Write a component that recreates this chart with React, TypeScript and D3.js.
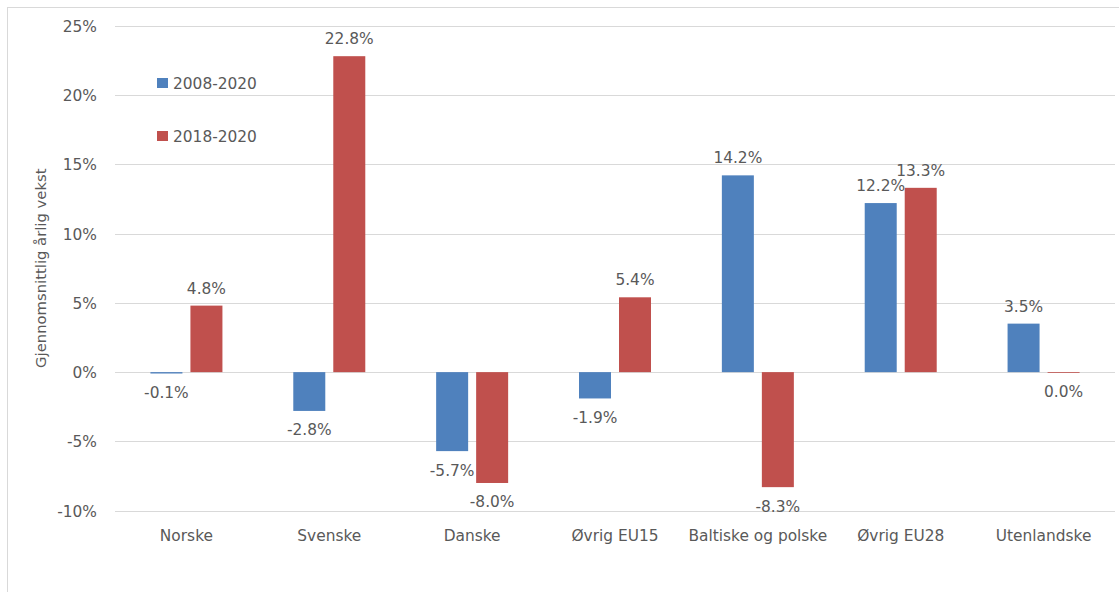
import React from "react";
import * as d3 from "d3";

// Average annual growth by group, in percent
const categories = [
  "Norske",
  "Svenske",
  "Danske",
  "Øvrig EU15",
  "Baltiske og polske",
  "Øvrig EU28",
  "Utenlandske",
];
const seriesNames = ["2008-2020", "2018-2020"];
const growth2008_2020 = [-0.1, -2.8, -5.7, -1.9, 14.2, 12.2, 3.5];
const growth2018_2020 = [4.8, 22.8, -8.0, 5.4, -8.3, 13.3, -0.04];
const yTicks = [-10, -5, 0, 5, 10, 15, 20, 25];
const yTitle = "Gjennomsnittlig årlig vekst";

const colors = ["#4F81BD", "#C0504D"];
const textColor = "#595959";
const gridColor = "#D9D9D9";
const fontFamily = "'DejaVu Sans', sans-serif";
const fs = 15.4;

const W = 1119;
const H = 592;

const locale = d3.formatLocale({
  decimal: ".",
  thousands: ",",
  grouping: [3],
  currency: ["", ""],
  minus: "-",
});
const fmtLabel = (v: number) => locale.format(".1f")(v) + "%";
const fmtTick = (v: number) => locale.format("d")(v) + "%";

export default function App() {
  const x = d3.scaleBand<string>().domain(categories).range([115, 1115]);
  const bw = x.bandwidth();
  const inner = d3
    .scaleBand<string>()
    .domain(seriesNames)
    .range([bw / 2 - 36, bw / 2 + 36])
    .paddingInner(0.2);
  const y = d3.scaleLinear().domain([-10, 25]).range([510.7, 25.7]);

  const series = [growth2008_2020, growth2018_2020];
  const crisp = (v: number) => Math.round(v) + 0.5;

  return (
    <svg
      width={W}
      height={H}
      style={{ position: "absolute", left: 0, top: 0, display: "block", background: "#fff" }}
      fontFamily={fontFamily}
    >
      <rect x={0} y={0} width={W} height={H} fill="#fff" />
      <rect x={7.5} y={7.5} width={W + 20} height={H + 20} fill="none" stroke={gridColor} strokeWidth={1} />

      {/* gridlines */}
      {yTicks.map((t) => (
        <line
          key={"g" + t}
          x1={115}
          x2={1115}
          y1={crisp(y(t))}
          y2={crisp(y(t))}
          stroke={gridColor}
          strokeWidth={1}
        />
      ))}

      {/* y tick labels */}
      {yTicks.map((t) => (
        <text
          key={"t" + t}
          x={97}
          y={y(t) + 6}
          textAnchor="end"
          fontSize={fs}
          fill={textColor}
        >
          {fmtTick(t)}
        </text>
      ))}

      {/* y axis title */}
      <text
        transform={`translate(46, ${(y(-10) + y(25)) / 2}) rotate(-90)`}
        textAnchor="middle"
        fontSize={14.8}
        fill={textColor}
      >
        {yTitle}
      </text>

      {/* bars */}
      {series.map((vals, si) =>
        vals.map((v, ci) => {
          const bx = (x(categories[ci]) ?? 0) + (inner(seriesNames[si]) ?? 0);
          const y0 = y(0);
          const yv = y(v);
          const top = Math.min(y0, yv);
          const h = Math.max(Math.abs(yv - y0), 0.8);
          return (
            <rect
              key={`b${si}-${ci}`}
              x={bx}
              y={top}
              width={inner.bandwidth()}
              height={h}
              fill={colors[si]}
            />
          );
        })
      )}

      {/* value labels */}
      {series.map((vals, si) =>
        vals.map((v, ci) => {
          const cx =
            (x(categories[ci]) ?? 0) + (inner(seriesNames[si]) ?? 0) + inner.bandwidth() / 2;
          const ly = v >= 0 ? y(v) - 12 : Math.max(y(v), y(0) + 0.8) + 24.5;
          return (
            <text
              key={`l${si}-${ci}`}
              x={cx}
              y={ly}
              textAnchor="middle"
              fontSize={fs}
              fill={textColor}
            >
              {fmtLabel(v)}
            </text>
          );
        })
      )}

      {/* category labels */}
      {categories.map((c) => (
        <text
          key={"c" + c}
          x={(x(c) ?? 0) + bw / 2}
          y={540.5}
          textAnchor="middle"
          fontSize={fs}
          fill={textColor}
        >
          {c}
        </text>
      ))}

      {/* legend */}
      {seriesNames.map((s, i) => (
        <g key={"lg" + s} transform={`translate(157, ${78 + i * 53})`}>
          <rect x={0} y={0} width={11} height={10} fill={colors[i]} />
          <text x={16} y={10.5} fontSize={fs} fill={textColor}>
            {s}
          </text>
        </g>
      ))}
    </svg>
  );
}
